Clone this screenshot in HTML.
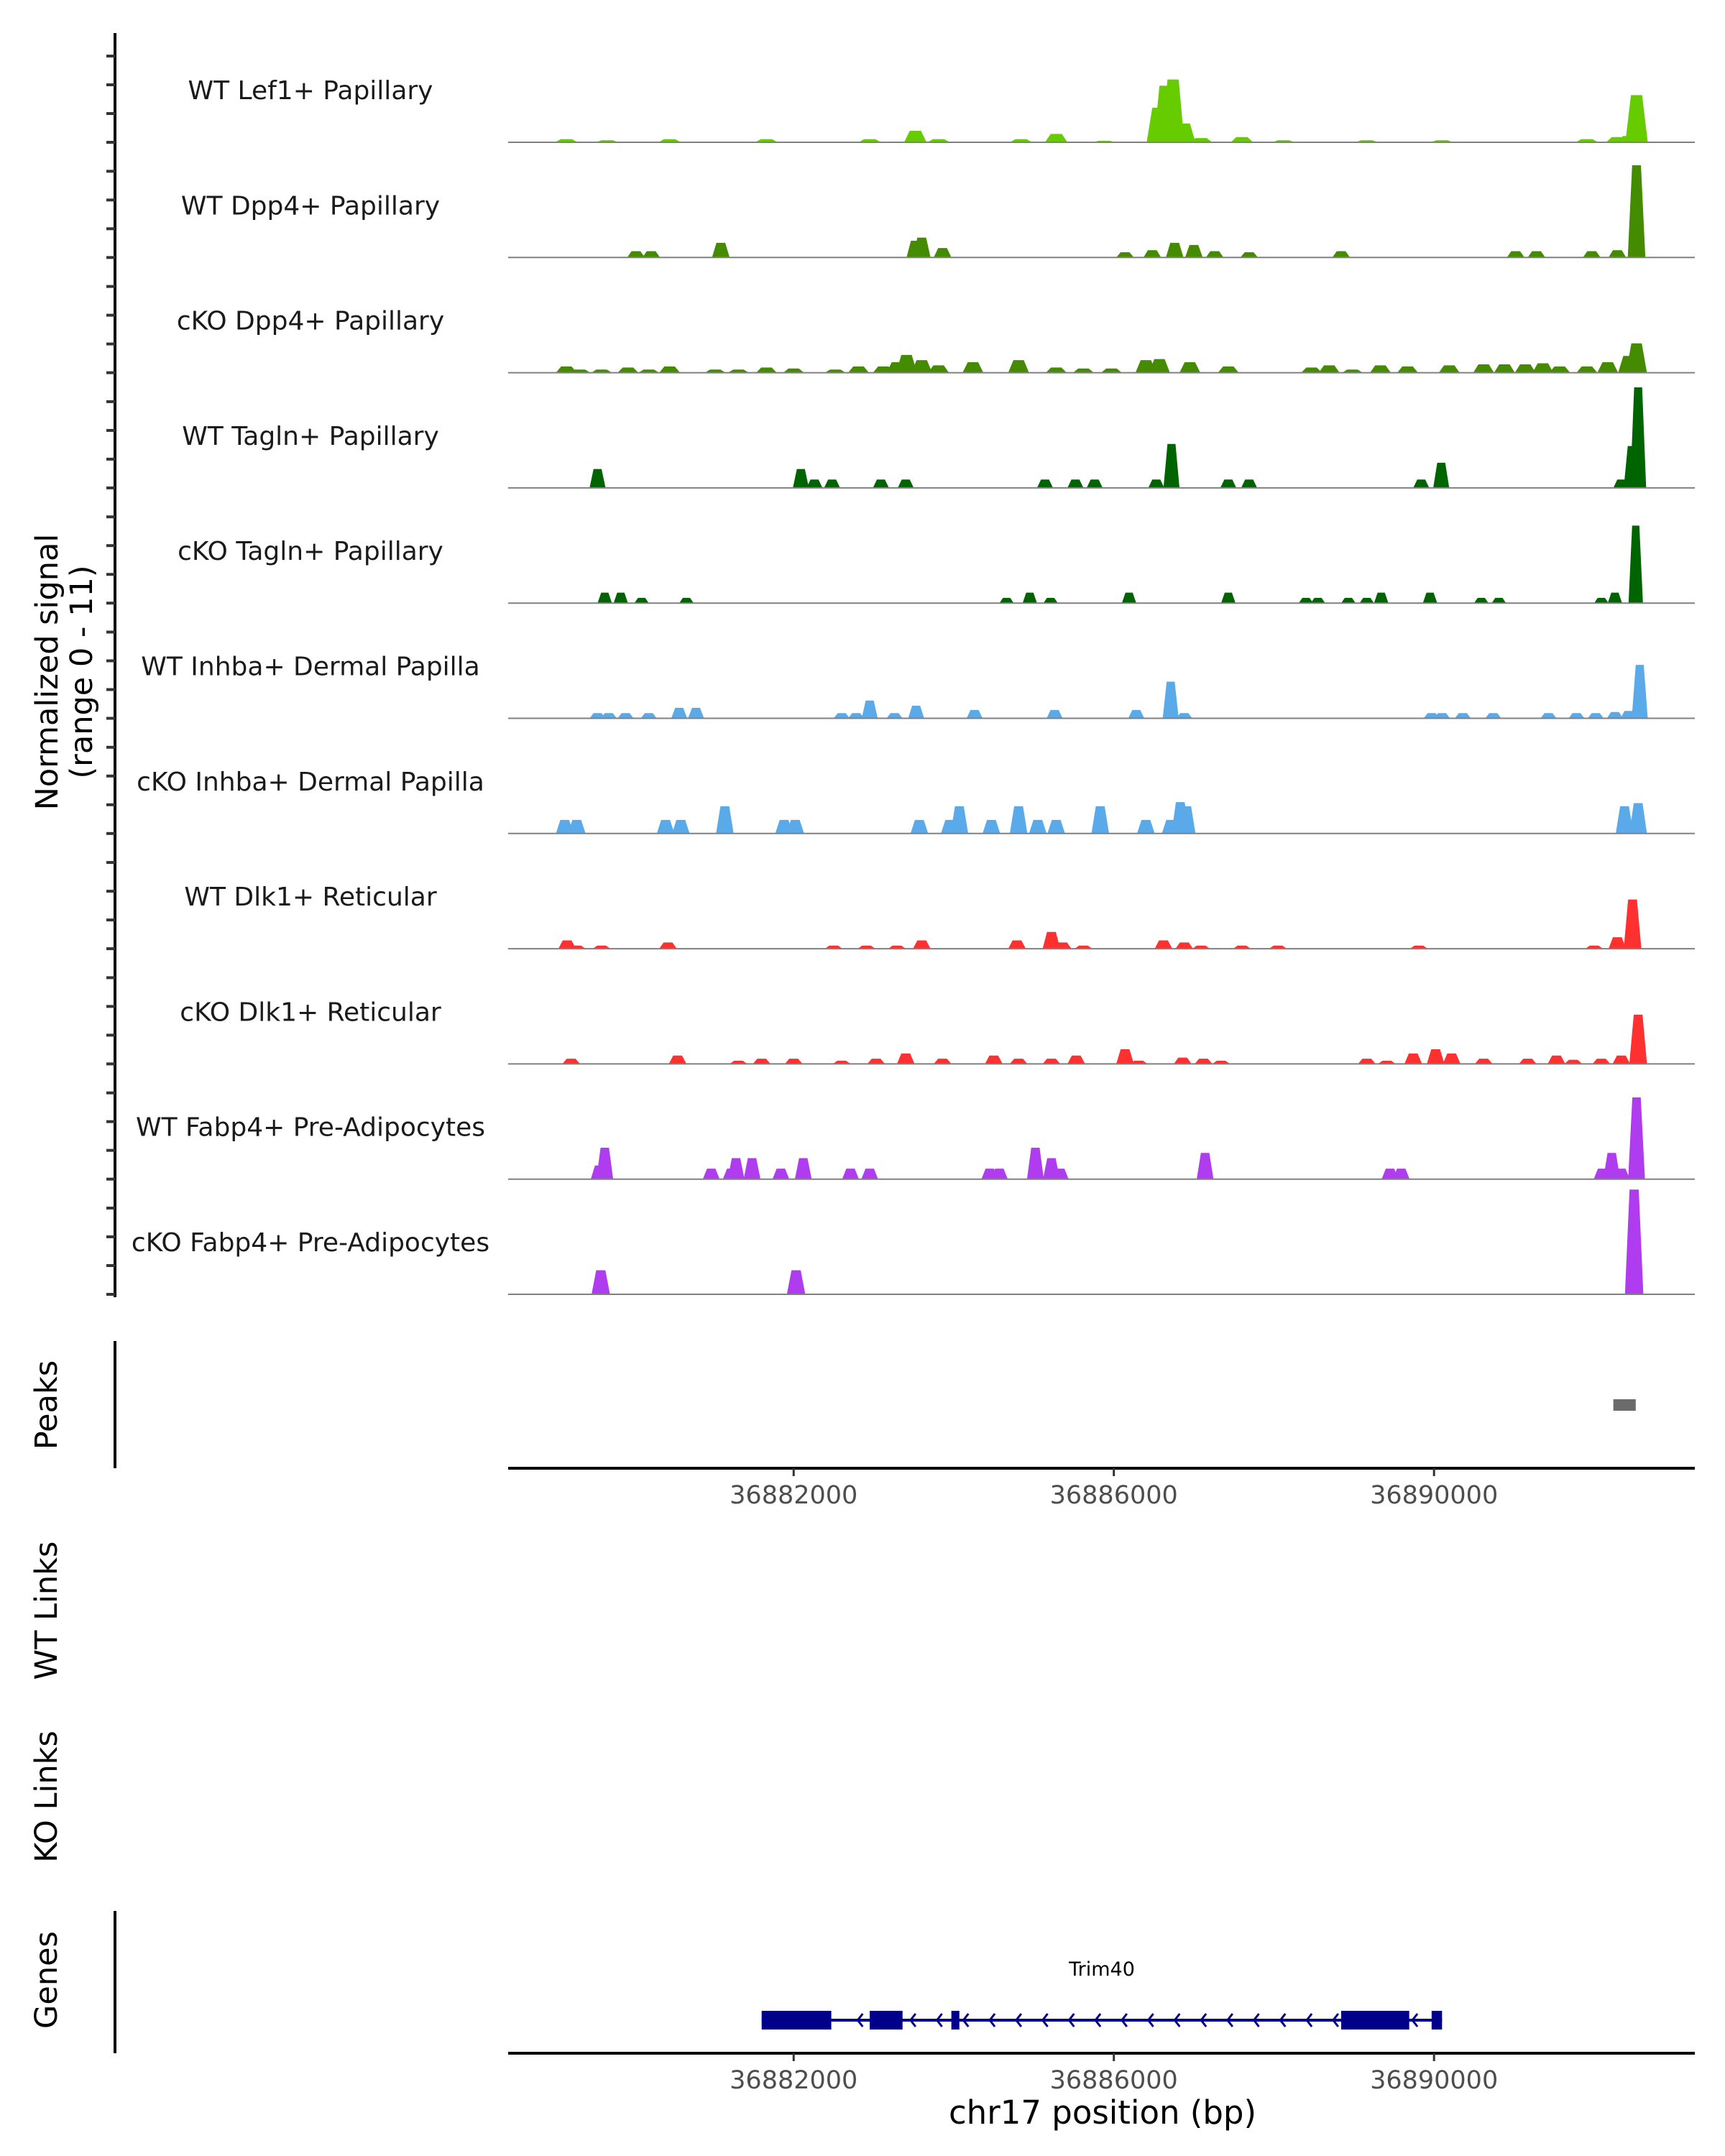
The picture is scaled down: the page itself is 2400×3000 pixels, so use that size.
<!DOCTYPE html>
<html><head><meta charset="utf-8"><style>
html,body{margin:0;padding:0;background:#fff;}
svg{display:block;font-family:"DejaVu Sans","Liberation Sans",sans-serif;}
</style></head><body>
<svg id="chart" width="2400" height="3000" viewBox="0 0 2400 3000" xmlns="http://www.w3.org/2000/svg">
<g id="tracks"></g>
<line x1="160" y1="46" x2="160" y2="1805" stroke="#000" stroke-width="4"/>
<g id="yticks"></g>
<text transform="translate(80,935) rotate(-90)" text-anchor="middle" font-size="43" fill="#000">Normalized signal</text>
<text transform="translate(128,935) rotate(-90)" text-anchor="middle" font-size="43" fill="#000">(range 0 - 11)</text>

<line x1="160" y1="1866" x2="160" y2="2043" stroke="#000" stroke-width="4"/>
<text transform="translate(79,1955) rotate(-90)" text-anchor="middle" font-size="43" fill="#000">Peaks</text>
<g id="peaks"></g>
<g id="xaxis1"></g>

<text transform="translate(79,2241) rotate(-90)" text-anchor="middle" font-size="43" fill="#000">WT Links</text>
<text transform="translate(79,2500) rotate(-90)" text-anchor="middle" font-size="43" fill="#000">KO Links</text>

<line x1="160" y1="2659" x2="160" y2="2857" stroke="#000" stroke-width="4"/>
<text transform="translate(79,2755) rotate(-90)" text-anchor="middle" font-size="43" fill="#000">Genes</text>
<g id="genes"></g>
<g id="xaxis2"></g>
<text x="1534" y="2955" text-anchor="middle" font-size="45" fill="#000">chr17 position (bp)</text>
</svg>
<script>
// ---- data (positions in kb, heights in normalized signal) ----
const trackNames = ["WT Lef1+ Papillary","WT Dpp4+ Papillary","cKO Dpp4+ Papillary","WT Tagln+ Papillary","cKO Tagln+ Papillary","WT Inhba+ Dermal Papilla","cKO Inhba+ Dermal Papilla","WT Dlk1+ Reticular","cKO Dlk1+ Reticular","WT Fabp4+ Pre-Adipocytes","cKO Fabp4+ Pre-Adipocytes"];
const trackColors = ["#66cc00","#448b00","#448b00","#006400","#006400","#5aaaea","#5aaaea","#ff3030","#ff3030","#b03cf0","#b03cf0"];
const trackWidths = [280,220,260,200,180,200,220,220,220,210,230];
const pos1 = [36879.16,36879.67,36880.45,36881.66,36882.95,36883.52,36883.81,36884.84,36885.28,36885.88,36886.55,36886.64,36886.74,36886.88,36887.09,36887.60,36888.12,36889.16,36890.10,36891.91,36892.29,36892.43,36892.53];
const val1 = [0.3,0.2,0.3,0.3,0.3,1.1,0.3,0.3,0.8,0.15,3.3,5.4,6.0,1.8,0.4,0.5,0.2,0.2,0.2,0.3,0.5,0.6,4.5];
const pos2 = [36880.03,36880.22,36881.09,36883.52,36883.60,36883.86,36886.14,36886.48,36886.76,36887.00,36887.26,36887.69,36888.84,36891.02,36891.28,36891.97,36892.29,36892.53];
const val2 = [0.6,0.6,1.4,1.6,1.9,0.9,0.5,0.7,1.4,1.2,0.6,0.5,0.6,0.6,0.6,0.6,0.7,8.8];
const pos3 = [36879.16,36879.33,36879.60,36879.93,36880.19,36880.45,36881.02,36881.31,36881.66,36882.00,36882.52,36882.81,36883.12,36883.29,36883.41,36883.60,36883.81,36884.24,36884.81,36885.28,36885.62,36885.97,36886.40,36886.57,36886.95,36887.43,36888.47,36888.69,36888.98,36889.33,36889.67,36890.19,36890.62,36890.88,36891.14,36891.36,36891.57,36891.91,36892.17,36892.43,36892.53];
const val3 = [0.6,0.3,0.3,0.5,0.3,0.6,0.3,0.3,0.5,0.4,0.3,0.6,0.6,1.0,1.7,1.2,0.7,1.0,1.2,0.5,0.4,0.4,1.2,1.3,1.0,0.6,0.5,0.7,0.3,0.7,0.6,0.7,0.8,0.8,0.8,0.9,0.6,0.6,1.0,1.6,2.8];
const pos4 = [36879.55,36882.09,36882.26,36882.48,36883.09,36883.40,36885.14,36885.52,36885.76,36886.53,36886.72,36887.43,36887.69,36889.84,36890.09,36892.34,36892.47,36892.55];
const val4 = [1.8,1.8,0.8,0.8,0.8,0.8,0.8,0.8,0.8,0.8,4.2,0.8,0.8,0.8,2.4,0.8,4.0,9.6];
const pos5 = [36879.64,36879.84,36880.10,36880.66,36884.66,36884.95,36885.21,36886.19,36887.43,36888.40,36888.55,36888.93,36889.16,36889.34,36889.95,36890.59,36890.81,36892.09,36892.26,36892.52];
const val5 = [1.0,1.0,0.5,0.5,0.5,1.0,0.5,1.0,1.0,0.5,0.5,0.5,0.5,1.0,1.0,0.5,0.5,0.5,1.0,7.4];
const pos6 = [36879.55,36879.69,36879.90,36880.19,36880.57,36880.78,36882.60,36882.78,36882.95,36883.26,36883.53,36884.26,36885.26,36886.28,36886.71,36886.88,36889.97,36890.10,36890.36,36890.74,36891.43,36891.78,36892.02,36892.26,36892.43,36892.57];
const val6 = [0.5,0.5,0.5,0.5,1.0,1.0,0.5,0.5,1.7,0.5,1.2,0.8,0.8,0.8,3.5,0.5,0.5,0.5,0.5,0.5,0.5,0.5,0.5,0.6,0.7,5.1];
const pos7 = [36879.14,36879.29,36880.40,36880.59,36881.14,36881.88,36882.02,36883.57,36883.95,36884.07,36884.47,36884.81,36885.05,36885.28,36885.83,36886.40,36886.71,36886.83,36886.91,36892.38,36892.55];
const val7 = [1.3,1.3,1.3,1.3,2.6,1.3,1.3,1.3,1.3,2.6,1.3,2.6,1.3,1.3,2.6,1.3,1.3,3.0,2.6,2.6,2.9];
const pos8 = [36879.17,36879.29,36879.60,36880.43,36882.50,36882.91,36883.29,36883.60,36884.79,36885.22,36885.36,36885.62,36886.62,36886.88,36887.09,36887.60,36888.05,36889.81,36892.00,36892.29,36892.48];
const val8 = [0.8,0.3,0.3,0.6,0.3,0.3,0.3,0.8,0.8,1.6,0.6,0.3,0.8,0.6,0.3,0.3,0.3,0.3,0.3,1.1,4.7];
const pos9 = [36879.22,36880.55,36881.31,36881.60,36882.00,36882.60,36883.03,36883.40,36883.86,36884.50,36884.81,36885.22,36885.53,36886.14,36886.31,36886.86,36887.12,36887.34,36889.16,36889.41,36889.74,36890.02,36890.22,36890.62,36891.17,36891.53,36891.74,36892.09,36892.34,36892.55];
const val9 = [0.5,0.8,0.3,0.5,0.5,0.3,0.5,1.0,0.5,0.8,0.5,0.5,0.8,1.4,0.3,0.6,0.5,0.3,0.5,0.3,1.0,1.4,1.0,0.5,0.5,0.8,0.4,0.5,0.8,4.7];
const pos10 = [36879.57,36879.64,36880.97,36881.22,36881.28,36881.48,36881.84,36882.12,36882.71,36882.95,36884.45,36884.57,36885.02,36885.22,36885.33,36887.14,36889.45,36889.59,36892.10,36892.22,36892.34,36892.53];
const val10 = [1.3,3.0,1.0,1.0,2.0,2.0,1.0,2.0,1.0,1.0,1.0,1.0,3.0,2.0,1.0,2.5,1.0,1.0,1.0,2.5,1.0,7.8];
const pos11 = [36879.59,36882.03,36892.50];
const val11 = [2.3,2.3,10.0];
const trackPos = [pos1,pos2,pos3,pos4,pos5,pos6,pos7,pos8,pos9,pos10,pos11];
const trackVals = [val1,val2,val3,val4,val5,val6,val7,val8,val9,val10,val11];
const xTicks = [36882000,36886000,36890000];
const xTickLabels = ["36882000","36886000","36890000"];
const peakStarts = [36892240];
const peakEnds = [36892520];
const geneName = "Trim40";
const exonStarts = [36881600,36882950,36883970,36888840,36889970];
const exonEnds = [36882470,36883360,36884070,36889690,36890100];
const geneStart = 36881600, geneEnd = 36890100;

// ---- scales ----
const NS="http://www.w3.org/2000/svg";
const X0=707, X1=2358, BP0=36878433, BP1=36893258;
const xs = bp => X0 + (bp-BP0)/(BP1-BP0)*(X1-X0);
const TRACK_H=160.3, BASE0=198, YMAX=11;
const base = i => BASE0 + i*TRACK_H;
const ys = (i,v) => base(i) - v/YMAX*TRACK_H;
function mk(tag, attrs, parent){const e=document.createElementNS(NS,tag);for(const k in attrs)e.setAttribute(k,attrs[k]);parent.appendChild(e);return e;}

const tracks=document.getElementById('tracks');
const yt=document.getElementById('yticks');
for(let i=0;i<trackNames.length;i++){
  const g=mk('g',{},tracks);
  
  
  const lab=mk('text',{x:432,y:base(i)-60,'text-anchor':'middle','font-size':36,fill:'#1a1a1a'},g);
  lab.textContent=trackNames[i];
  
  
  const w=trackWidths[i];
  trackPos[i].forEach((p,j)=>{
    const c=p*1000, v=trackVals[i][j];
    const xa=xs(c-w/2), xb=xs(c-w*0.25), xc=xs(c+w*0.25), xd=xs(c+w/2);
    const yb=base(i), yt2=ys(i,v);
    const poly=mk('polygon',{points:`${xa},${yb} ${xb},${yt2} ${xc},${yt2} ${xd},${yb}`,fill:trackColors[i]},g);
    
    
  });
  const bl=mk('line',{x1:X0,x2:X1,y1:base(i),y2:base(i),stroke:'#808080','stroke-width':2},g);
  
  
  for(let k=0;k<4;k++){
    const t=mk('line',{x1:148,x2:160,y1:base(i)-k*40,y2:base(i)-k*40,stroke:'#333','stroke-width':4},yt);
    
    
  }
}
// peaks
const pk=document.getElementById('peaks');
peakStarts.forEach((s,j)=>{
  const r=mk('rect',{x:xs(s),y:1947,width:xs(peakEnds[j])-xs(s),height:16,fill:'#6b6b6b'},pk);
  
  
});
function xaxis(id,y){
  const g=document.getElementById(id);
  const l=mk('line',{x1:X0,x2:X1,y1:y,y2:y,stroke:'#000','stroke-width':4},g);
  
  
  xTicks.forEach((t,j)=>{
    const tk=mk('line',{x1:xs(t),x2:xs(t),y1:y,y2:y+11,stroke:'#333','stroke-width':3},g);
    
    
    const tl=mk('text',{x:xs(t),y:y+49,'text-anchor':'middle','font-size':35,fill:'#4d4d4d'},g);
    tl.textContent=xTickLabels[j];
    
    
  });
}
xaxis('xaxis1',2043);
xaxis('xaxis2',2857);
// gene
const gg=document.getElementById('genes');
const GY=2811;
const gl=mk('line',{x1:xs(geneStart),x2:xs(geneEnd),y1:GY,y2:GY,stroke:'#00008b','stroke-width':4},gg);


exonStarts.forEach((s,j)=>{
  const r=mk('rect',{x:xs(s),y:GY-13,width:xs(exonEnds[j])-xs(s),height:26,fill:'#00008b'},gg);
  
  
});
for(let b=geneStart+1200;b<geneEnd-200;b+=330){
  const ax=xs(b);
  const a=mk('polyline',{points:`${ax+7},${GY-9} ${ax},${GY} ${ax+7},${GY+9}`,fill:'none',stroke:'#00008b','stroke-width':3},gg);
  
  
}
const gn=mk('text',{x:xs((geneStart+geneEnd)/2),y:2749,'text-anchor':'middle','font-size':27,fill:'#000'},gg);
gn.textContent=geneName;


</script>
</body></html>
